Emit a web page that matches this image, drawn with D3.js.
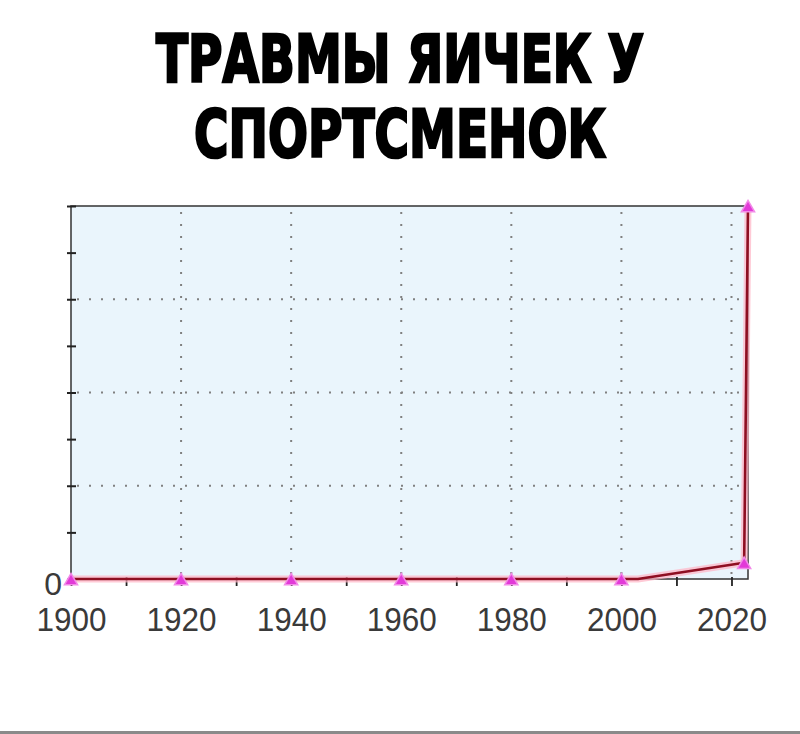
<!DOCTYPE html>
<html>
<head>
<meta charset="utf-8">
<script src="https://cdn.jsdelivr.net/npm/d3@7"></script>
<style>
  body { margin: 0; background: #fff; }
</style>
</head>
<body>
<script>
// data
let years    = [1900, 1920, 1940, 1960, 1980, 2000, 2003, 2022.3, 2023];
let injuries = [0, 0, 0, 0, 0, 0, 0, 0.35, 8];
let hasMarker = [true, true, true, true, true, true, false, true, true];
let xTickLabels = [1900, 1920, 1940, 1960, 1980, 2000, 2020];
let xMinorTicks = d3.range(1900, 2021, 10);
let yTickLabels = [0];
let yMinorTicks = [0, 1, 2, 3, 4, 5, 6, 7, 8];
let yGridValues = [2, 4, 6];
let xGridValues = [1920, 1940, 1960, 1980, 2000, 2020];
let titleLines = ['ТРАВМЫ ЯИЧЕК У', 'СПОРТСМЕНОК'];

let data = years.map((y, i) => ({ year: y, value: injuries[i], marker: hasMarker[i] }));

let width = 800, height = 734;
let margin = { top: 206, bottom: 155, left: 71, right: 52 };

let svg = d3.select('body')
  .append('svg')
  .attr('width', width)
  .attr('height', height)
  .style('background', 'white');

// title (narrow glyphs stretched tall to get the blocky look)
svg.selectAll('.title')
  .data(titleLines)
  .enter()
  .append('text')
  .attr('transform', (d, i) => `translate(${width / 2},${82 + i * 75}) scale(1,1.35)`)
  .attr('text-anchor', 'middle')
  .attr('textLength', (d, i) => i === 0 ? 488 : 412)
  .attr('lengthAdjust', 'spacingAndGlyphs')
  .style('font-family', 'DejaVu Sans')
  .style('font-weight', 'bold')
  .style('font-size', '49px')
  .style('fill', '#000')
  .style('stroke', '#000')
  .style('stroke-width', 2)
  .text(d => d);

// scales
let xScale = d3.scaleLinear()
  .domain([1900, 2023])
  .range([margin.left, width - margin.right]);

let yScale = d3.scaleLinear()
  .domain([0, 8])
  .range([height - margin.bottom, margin.top]);

let x0 = xScale.range()[0], x1 = xScale.range()[1];
let y0 = yScale.range()[0], y1 = yScale.range()[1];

// plot background
svg.append('rect')
  .attr('x', x0)
  .attr('y', y1)
  .attr('width', x1 - x0)
  .attr('height', y0 - y1)
  .attr('fill', '#eaf5fc');

// dotted grid
svg.selectAll('.vgrid')
  .data(xGridValues)
  .enter()
  .append('line')
  .attr('x1', d => xScale(d)).attr('x2', d => xScale(d))
  .attr('y1', y1 + 6).attr('y2', y0)
  .attr('stroke', '#808080')
  .attr('stroke-width', 2)
  .attr('stroke-dasharray', '2,10');

svg.selectAll('.hgrid')
  .data(yGridValues)
  .enter()
  .append('line')
  .attr('x1', x0 + 6).attr('x2', x1)
  .attr('y1', d => yScale(d)).attr('y2', d => yScale(d))
  .attr('stroke', '#808080')
  .attr('stroke-width', 2)
  .attr('stroke-dasharray', '2,10');

// frame
svg.append('rect')
  .attr('x', x0)
  .attr('y', y1)
  .attr('width', x1 - x0)
  .attr('height', y0 - y1)
  .attr('fill', 'none')
  .attr('stroke', '#333')
  .attr('stroke-width', 1.5);

// x minor ticks
let xTicks = svg.append('g')
  .attr('transform', `translate(0,${y0 + 2})`)
  .call(d3.axisBottom(xScale).tickValues(xMinorTicks).tickSize(5).tickFormat(''));
xTicks.select('.domain').remove();
xTicks.selectAll('line').attr('y1', -4).attr('stroke', '#222').attr('stroke-width', 1.8);

// x labels
let xLabels = svg.append('g')
  .attr('transform', `translate(0,${y0})`)
  .call(d3.axisBottom(xScale).tickValues(xTickLabels).tickSize(0).tickPadding(28).tickFormat(d3.format('d')));
xLabels.select('.domain').remove();
xLabels.selectAll('text')
  .style('font-family', 'Liberation Sans')
  .style('font-size', '34px')
  .style('fill', '#3a3a3a')
  .attr('textLength', 70)
  .attr('lengthAdjust', 'spacingAndGlyphs');

// y ticks
let yTicks = svg.append('g')
  .attr('transform', `translate(${x0},0)`)
  .call(d3.axisLeft(yScale).tickValues(yMinorTicks).tickSize(4).tickFormat(''));
yTicks.select('.domain').remove();
yTicks.selectAll('line').attr('x1', 5).attr('stroke', '#222').attr('stroke-width', 2);

// y labels
let yLabels = svg.append('g')
  .attr('transform', `translate(${x0},5)`)
  .call(d3.axisLeft(yScale).tickValues(yTickLabels).tickSize(0).tickPadding(9));
yLabels.select('.domain').remove();
yLabels.selectAll('text')
  .style('font-family', 'Liberation Sans')
  .style('font-size', '32px')
  .style('fill', '#3a3a3a');

// line
let line = d3.line()
  .x(d => xScale(d.year))
  .y(d => yScale(d.value));

svg.append('path')
  .datum(data)
  .attr('d', line)
  .attr('fill', 'none')
  .attr('stroke', '#ffb3c4')
  .attr('stroke-width', 7)
  .attr('stroke-opacity', 0.7)
  .attr('stroke-linejoin', 'round');

svg.append('path')
  .datum(data)
  .attr('d', line)
  .attr('fill', 'none')
  .attr('stroke', '#8e0f22')
  .attr('stroke-width', 2.6)
  .attr('stroke-linejoin', 'round');

// markers
svg.selectAll('.marker')
  .data(data.filter(d => d.marker))
  .enter()
  .append('path')
  .attr('d', d3.symbol(d3.symbolTriangle).size(75))
  .attr('transform', d => `translate(${xScale(d.year)},${yScale(d.value) + 2})`)
  .attr('fill', '#e23ad8')
  .attr('stroke', '#f28ae8')
  .attr('stroke-width', 1.5);

// bottom gray rule
svg.append('rect')
  .attr('x', 0)
  .attr('y', height - 3)
  .attr('width', width)
  .attr('height', 3)
  .attr('fill', '#8a8a8a');
</script>
</body>
</html>
